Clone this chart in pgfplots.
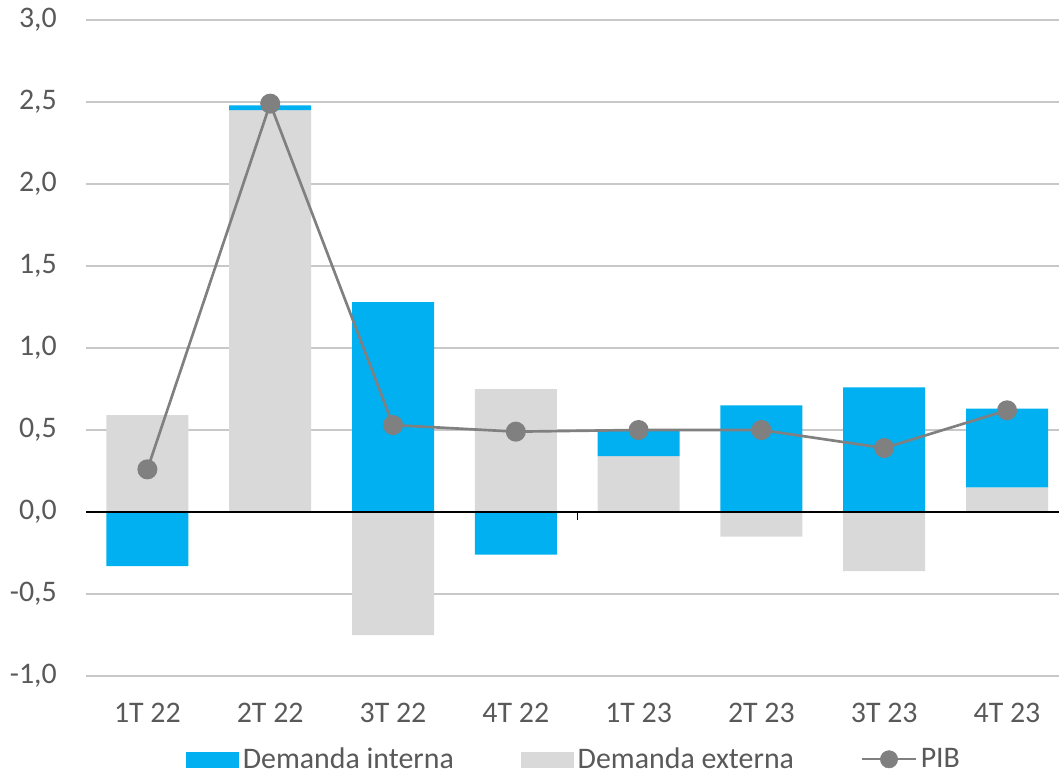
\documentclass[border=0pt]{standalone}
\usepackage{pgfplots}
\pgfplotsset{compat=1.18}
\usepackage{fontspec}
\setmainfont{Carlito}
\definecolor{cblue}{HTML}{00B0F0}
\definecolor{cgrey}{HTML}{D9D9D9}
\definecolor{cline}{HTML}{808080}
\definecolor{ctext}{HTML}{595959}
\definecolor{cgrid}{HTML}{C8C8C8}
\begin{document}
\begin{tikzpicture}
\begin{axis}[name=ax,
  x=92.1pt, y=123pt,
  xmin=-0.5, xmax=7.43, ymin=-1, ymax=3,
  ybar stacked, bar width=61.5pt,
  reverse stacked plots=false,
  axis line style={draw=none},
  major tick length=0pt,
  ytick={-1,-0.5,0,0.5,1,1.5,2,2.5,3},
  xtick={0,1,2,3,4,5,6,7},
  xticklabels={1T 22,2T 22,3T 22,4T 22,1T 23,2T 23,3T 23,4T 23},
  ymajorgrids, grid style={cgrid, line width=1.3pt},
  tick label style={font=\fontsize{22.4}{26}\selectfont, text=ctext},
  yticklabel style={inner sep=0pt, xshift=-21.75pt},
  xticklabel style={anchor=base, inner sep=0pt, yshift=-34.5pt},
  clip=false,
  legend columns=3,
  legend style={draw=none, fill=none, inner sep=0pt,
    at={(0.1027,-0.127)}, anchor=west,
    font=\fontsize{22.4}{26}\selectfont, text=ctext,
    nodes={inner sep=0pt},
    /tikz/every odd column/.append style={column sep=3pt},
    /tikz/every even column/.append style={column sep=50.5pt}},
  /pgf/number format/fixed,
  /pgf/number format/fixed zerofill,
  /pgf/number format/precision=1,
  /pgf/number format/use comma,
  /pgf/number format/assume math mode=true,
]
% positive parts, stacked (Demanda externa at the bottom)
\addplot[fill=cgrey, draw=none, forget plot] coordinates {
 (0,0.59) (1,2.45) (2,0) (3,0.75) (4,0.34) (5,0) (6,0) (7,0.15)};
\addplot[fill=cblue, draw=none, forget plot] coordinates {
 (0,0) (1,0.03) (2,1.28) (3,0) (4,0.16) (5,0.65) (6,0.76) (7,0.48)};
% negative parts, from zero
\addplot[fill=cblue, draw=none, stack plots=false, forget plot] coordinates {
 (0,-0.33) (3,-0.26)};
\addplot[fill=cgrey, draw=none, stack plots=false, forget plot] coordinates {
 (2,-0.75) (5,-0.15) (6,-0.36)};
% zero line and its single tick
\draw[black, line width=1pt] (axis cs:-0.5,0) -- (axis cs:7.43,0);
\draw[black, line width=1pt] (axis cs:3.5,0) -- ++(0pt,-6pt);
% PIB
\addplot[stack plots=false, sharp plot, cline, line width=2pt,
  mark=*, mark size=6.5pt, mark options={fill=cline, draw=cline}, forget plot] coordinates {
 (0,0.26) (1,2.49) (2,0.53) (3,0.49) (4,0.50) (5,0.50) (6,0.39) (7,0.62)};
\addlegendimage{legend image code/.code={\fill[cblue] (0pt,-5.6pt) rectangle (39pt,5.6pt);}}
\addlegendentry{Demanda interna}
\addlegendimage{legend image code/.code={\fill[cgrey] (0pt,-5.6pt) rectangle (39pt,5.6pt);}}
\addlegendentry{Demanda externa}
\addlegendimage{legend image code/.code={\draw[cline, line width=1.6pt] (0pt,0pt) -- (40pt,0pt); \fill[cline] (20pt,0pt) circle (6.5pt);}}
\addlegendentry{PIB}
\end{axis}
\pgfresetboundingbox
\path ([shift={(-64.5pt,-74.25pt)}]ax.south west) rectangle ([shift={(729.75pt,507pt)}]ax.south west);
\end{tikzpicture}
\end{document}
